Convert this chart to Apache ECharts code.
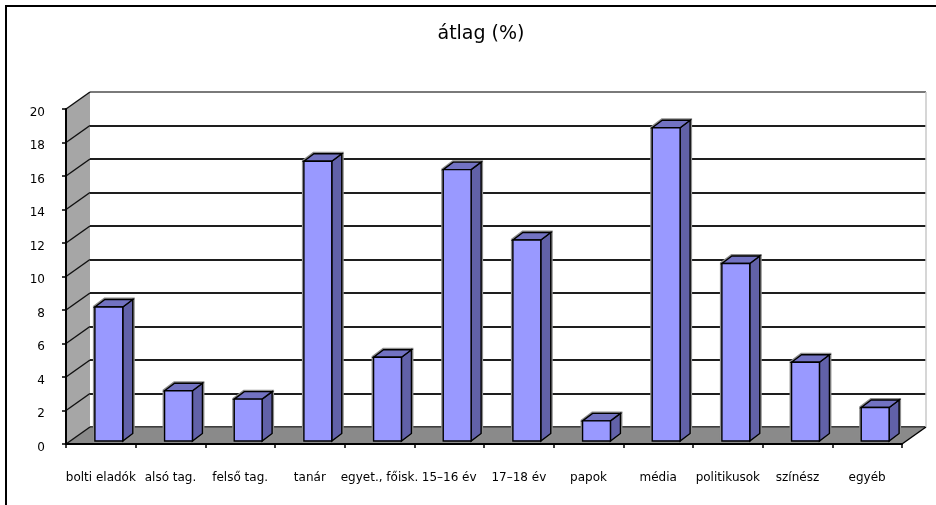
<!DOCTYPE html>
<html>
<head>
<meta charset="utf-8">
<script src="https://cdn.jsdelivr.net/npm/echarts@6/dist/echarts.min.js"></script>
<style>
  html, body { margin: 0; padding: 0; background: #fff; }
  #chart { width: 936px; height: 505px; }
</style>
</head>
<body>
<div id="chart"></div>
<script>
// Chart content
const TITLE = 'átlag (%)';
const CATEGORIES = ['bolti eladók', 'alsó tag.', 'felső tag.', 'tanár', 'egyet., főisk.',
  '15–16 év', '17–18 év', 'papok', 'média', 'politikusok', 'színész', 'egyéb'];
const VALUES = [8.0, 3.0, 2.5, 16.7, 5.0, 16.2, 12.0, 1.2, 18.7, 10.6, 4.7, 2.0];
const Y_TICKS = [0, 2, 4, 6, 8, 10, 12, 14, 16, 18, 20];

// Layout of the pseudo 3-D box: front plane grid and the depth offset of the back wall
const FRONT = { left: 66, top: 109, right: 34, bottom: 61 };
const DEPTH_X = 24;
const DEPTH_Y = 17;
// Column geometry relative to a category band
const BAR = { offsetX: 8, offsetY: 3, widthRatio: 0.4, depthX: 10, depthY: 7.5 };
const FONT = 'DejaVu Sans';

const Y_MIN = Y_TICKS[0];
const Y_MAX = Y_TICKS[Y_TICKS.length - 1];
const Y_STEP = Y_TICKS[1] - Y_TICKS[0];

const chart = echarts.init(document.getElementById('chart'));

function line(p1, p2, stroke, lineWidth) {
  return { type: 'line', shape: { x1: p1[0], y1: p1[1], x2: p2[0], y2: p2[1] },
    style: { stroke: stroke, lineWidth: lineWidth } };
}

// Side wall, floor and the diagonal grid strokes on the side wall
function renderBox(params, api) {
  const cs = params.coordSys;
  const x0 = cs.x, x1 = cs.x + cs.width;
  const yTop = cs.y, yBot = cs.y + cs.height;
  const dx = DEPTH_X, dy = DEPTH_Y;
  const children = [];
  children.push({ type: 'polygon',
    shape: { points: [[x0, yBot], [x0, yTop], [x0 + dx, yTop - dy], [x0 + dx, yBot - dy]] },
    style: { fill: '#a6a6a6' } });
  children.push({ type: 'polygon',
    shape: { points: [[x0, yBot], [x1, yBot], [x1 + dx, yBot - dy], [x0 + dx, yBot - dy]] },
    style: { fill: '#8a8a8a' } });
  children.push(line([x0 + dx, yBot - dy], [x1 + dx, yBot - dy], '#4a4a4a', 1.5));
  children.push(line([x1, yBot], [x1 + dx, yBot - dy], '#000', 1.5));
  children.push(line([x1 + dx, yTop - dy], [x1 + dx, yBot - dy], '#c8c8c8', 1.5));
  Y_TICKS.forEach(function (t) {
    const y = api.coord([0, t])[1];
    children.push(line([x0, y], [x0 + dx, y - dy], '#111', 1.5));
  });
  return { type: 'group', children: children };
}

// One 3-D column: front face, right side face and top face
function renderColumn(params, api) {
  const idx = api.value(0);
  const val = api.value(1);
  const base = api.coord([idx, 0]);
  const top = api.coord([idx, val]);
  const band = api.size([1, 0])[0];
  const w = band * BAR.widthRatio;
  const cx = base[0] + BAR.offsetX;
  const xl = cx - w / 2, xr = cx + w / 2;
  const y0 = base[1] - BAR.offsetY, y1 = top[1] - BAR.offsetY;
  const dx = BAR.depthX, dy = BAR.depthY;
  const edge = { stroke: '#000', lineWidth: 1.4, lineJoin: 'miter' };
  return { type: 'group', children: [
    { type: 'polygon',
      shape: { points: [[xl, y0], [xl, y1], [xl + dx, y1 - dy], [xr + dx, y1 - dy], [xr + dx, y0 - dy], [xr, y0]] },
      style: { fill: 'none', stroke: '#8e8e8e', lineWidth: 4 } },
    { type: 'polygon',
      shape: { points: [[xr, y0], [xr, y1], [xr + dx, y1 - dy], [xr + dx, y0 - dy]] },
      style: Object.assign({ fill: '#6161a8' }, edge) },
    { type: 'polygon',
      shape: { points: [[xl, y1], [xr, y1], [xr + dx, y1 - dy], [xl + dx, y1 - dy]] },
      style: Object.assign({ fill: '#7272c2' }, edge) },
    { type: 'rect',
      shape: { x: xl, y: y1, width: w, height: y0 - y1 },
      style: Object.assign({ fill: '#9999ff' }, edge) }
  ] };
}

const option = {
  animation: false,
  backgroundColor: '#fff',
  title: {
    text: TITLE, left: 476, top: 20, textAlign: 'center',
    textStyle: { fontFamily: FONT, fontSize: 19, fontWeight: 'normal', color: '#000' }
  },
  graphic: [{
    type: 'rect', z: 100,
    shape: { x: 6, y: 6, width: 2000, height: 2000 },
    style: { fill: 'none', stroke: '#000', lineWidth: 2 }
  }],
  grid: [
    { left: FRONT.left, top: FRONT.top, right: FRONT.right, bottom: FRONT.bottom },
    { left: FRONT.left + DEPTH_X, top: FRONT.top - DEPTH_Y,
      right: FRONT.right - DEPTH_X, bottom: FRONT.bottom + DEPTH_Y }
  ],
  xAxis: [
    { type: 'category', gridIndex: 0, data: CATEGORIES, z: 5,
      axisLine: { lineStyle: { color: '#000', width: 2 } },
      axisTick: { show: true, length: 4, lineStyle: { color: '#000', width: 1.5 } },
      axisLabel: { interval: 0, margin: 28, color: '#000', fontFamily: FONT, fontSize: 12 },
      splitLine: { show: false } },
    { type: 'category', gridIndex: 1, data: CATEGORIES, show: false }
  ],
  yAxis: [
    { type: 'value', gridIndex: 0, min: Y_MIN, max: Y_MAX, interval: Y_STEP, z: 5,
      axisLine: { show: true, lineStyle: { color: '#000', width: 2 } },
      axisTick: { show: true, length: 4, lineStyle: { color: '#000', width: 1.5 } },
      axisLabel: { margin: 21, color: '#000', fontFamily: FONT, fontSize: 12,
        verticalAlign: 'top', lineHeight: 7 },
      splitLine: { show: false } },
    { type: 'value', gridIndex: 1, min: Y_MIN, max: Y_MAX, interval: Y_STEP, z: 0,
      axisLine: { show: false }, axisTick: { show: false }, axisLabel: { show: false },
      splitLine: { show: true, lineStyle: {
        width: 2,
        color: Y_TICKS.map(function (t) { return t === Y_MAX ? '#7a7a7a' : '#1e1e1e'; })
      } } }
  ],
  series: [
    { type: 'custom', name: 'box', xAxisIndex: 0, yAxisIndex: 0, z: 1, silent: true,
      renderItem: renderBox, data: [[0, 0]] },
    { type: 'custom', name: TITLE, xAxisIndex: 0, yAxisIndex: 0, z: 3,
      renderItem: renderColumn,
      data: VALUES.map(function (v, i) { return [i, v]; }) }
  ]
};

chart.setOption(option);
</script>
</body>
</html>
